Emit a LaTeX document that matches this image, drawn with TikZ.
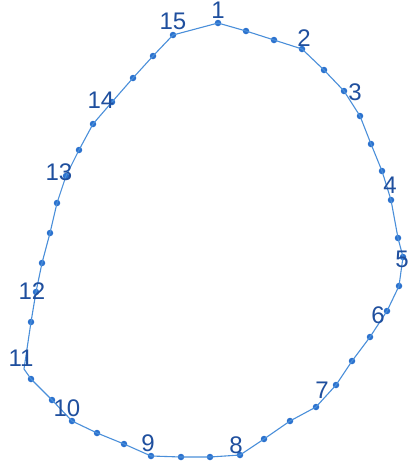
\documentclass[tikz,border=0pt]{standalone}
\usepackage{fontspec}
\setmainfont{Liberation Sans}
\definecolor{cline}{HTML}{4A8FDA}
\definecolor{cdot}{HTML}{2C72CE}
\definecolor{cnum}{HTML}{1F4F9E}
\tikzset{
  every picture/.style={x=1pt, y=-1pt},
  dot/.style={circle, fill=cdot, inner sep=0pt, minimum size=6.5pt},
  corner/.style={inner sep=0pt, minimum size=0pt},
  edge/.style={draw=cline, line width=1.1pt},
  num/.style={text=cnum, font=\fontsize{24}{24}\selectfont, inner sep=0pt},
}
\begin{document}
\begin{tikzpicture}
  \useasboundingbox[fill=white] (0,0) rectangle (409,469);
  % points of the outline, clockwise from the top
  \foreach \px/\py/\s [count=\i] in {218/23/dot, 246/31/dot, 274/40/dot, 302/49/dot,
      324/70/dot, 344/91/dot, 360/116/dot, 371/144/dot, 382/171/dot, 391/200/dot,
      398/238/dot, 403/257/dot, 399/286/dot, 387/311/dot, 370/337/dot, 352/361/dot,
      336/385/dot, 316/407/dot, 290/421/dot, 264/439/dot, 240/455/dot, 210/457/dot,
      181/457/dot, 151/456/dot, 124/444/dot, 97/433/dot, 72/421/dot, 52/400/dot,
      31/379/dot, 24/369/corner, 31/322/dot, 36/292/dot, 42/263/dot, 50/233/dot,
      57/203/dot, 66/176/dot, 79/150/dot, 93/124/dot, 112/102/dot, 133/78/dot,
      153/56/dot, 173/35/dot}
    \node[\s] (d\i) at (\px,\py) {};
  \draw[edge] (d1.center) \foreach \i in {2,...,42} { -- (d\i.center) } -- cycle;
  % numbers
  \foreach \px/\py [count=\i] in {218/10, 304/38, 355/92, 390/185, 402/259, 378/315,
      322/390, 236/445, 148/443, 67/408, 21/358, 32/291, 59/172, 101/100, 173/21}
    \node[num] (n\i) at (\px,\py) {\i};
\end{tikzpicture}
\end{document}
